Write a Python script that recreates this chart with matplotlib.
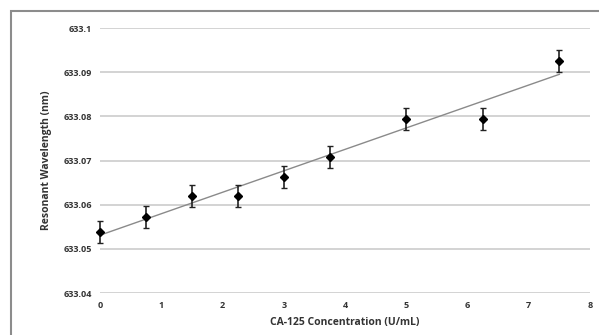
import numpy as np
import matplotlib
matplotlib.use("Agg")
import matplotlib.pyplot as plt
from matplotlib.patches import Rectangle

# data
conc = [0, 0.75, 1.5, 2.25, 3, 3.75, 5, 6.25, 7.5]
wavelength = [633.0539, 633.0573, 633.0619, 633.0619, 633.0663,
              633.0707, 633.0795, 633.0795, 633.0925]
err = [0.0025, 0.0025, 0.0025, 0.0025, 0.0025, 0.0025, 0.0025, 0.0025, 0.0025]
yticks = [633.04, 633.05, 633.06, 633.07, 633.08, 633.09, 633.1]
ytick_labels = ["633.04", "633.05", "633.06", "633.07", "633.08", "633.09", "633.1"]
xticks = [0, 1, 2, 3, 4, 5, 6, 7, 8]

plt.rcParams['font.family'] = ['Open Sans', 'DejaVu Sans']

fig = plt.figure(figsize=(5.99, 3.35), dpi=100)
fig.patches.append(Rectangle((11 / 599, -0.1), 1.2, (335 - 11) / 335 + 0.1,
                             transform=fig.transFigure, fill=False,
                             edgecolor='#8c8c8c', linewidth=1.5))

ax = fig.add_axes([100 / 599, 1 - 293 / 335, 490 / 599, 265 / 335])

# linear trend
slope, icpt = np.polyfit(conc, wavelength, 1)
xs = np.array([conc[0], conc[-1]])
ax.plot(xs, slope * xs + icpt, color='#8a8a8a', linewidth=1.0, zorder=2)

eb = ax.errorbar(conc, wavelength, yerr=err, fmt='D', color='black', markersize=4.5,
                 ecolor='#222222', elinewidth=1.2, capsize=2, capthick=1.0, zorder=3)
for art in eb.get_children():
    art.set_clip_on(False)

ax.set_xlim(0, 8)
ax.set_ylim(633.04, 633.1)
ax.set_xticks(xticks)
ax.set_yticks(yticks)
ax.set_yticklabels(ytick_labels)
ax.yaxis.grid(True, color='#cccccc', linewidth=1.2)
ax.set_axisbelow(True)
for s in ax.spines.values():
    s.set_visible(False)
ax.tick_params(length=0, labelsize=6.5, pad=6)
for lbl in ax.get_xticklabels() + ax.get_yticklabels():
    lbl.set_fontweight('bold')
    lbl.set_color('#333333')

ax.set_xlabel("CA-125 Concentration (U/mL)", fontsize=7.5, fontweight='bold',
              color='#333333', labelpad=5)
ax.set_ylabel("Resonant Wavelength (nm)", fontsize=7.5, fontweight='bold',
              color='#333333', labelpad=8)

fig.savefig("out.png", dpi=100)
